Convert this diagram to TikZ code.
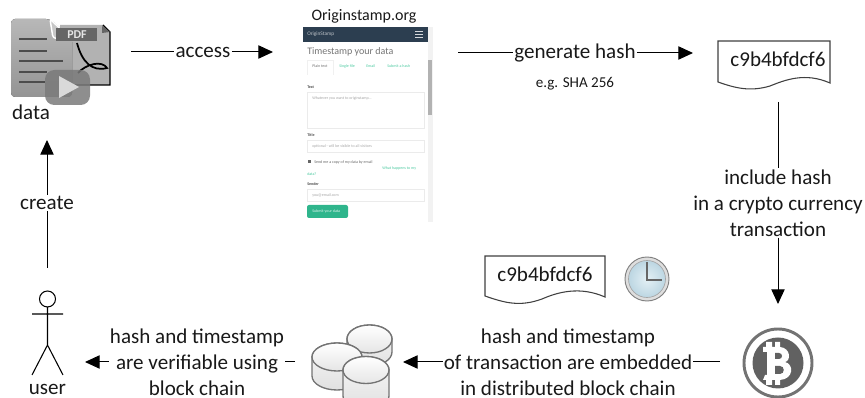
\documentclass[tikz,border=0pt]{standalone}
\usepackage{fontspec}
\setmainfont{Carlito}
\usetikzlibrary{arrows.meta}
\definecolor{hdr}{HTML}{2C3E50}
\definecolor{grn}{HTML}{4CC9A0}
\definecolor{btn}{HTML}{2FB58C}
\definecolor{clockin}{HTML}{E4F0F5}
\definecolor{clockout}{HTML}{BCD6E2}
\tikzset{
  lbl/.style={font=\fontsize{15.8}{19.5}\selectfont,align=center,inner sep=0.8pt,text=black!90},
  line/.style={line width=0.75pt,black},
  arr/.style={line width=0.75pt,black,-{Triangle[length=11pt,width=10pt]}},
  wavedoc/.style={draw=black!75,line width=0.8pt,fill=white},
  cyl/.style={draw=black!55,line width=1pt,top color=black!3,bottom color=black!12},
  tiny/.style={font=\fontsize{3}{3}\selectfont,inner sep=0pt,anchor=west},
  field/.style={draw=black!8,line width=0.4pt,fill=white},
}
\begin{document}
\begin{tikzpicture}[x=0.75pt,y=-0.75pt]
\useasboundingbox (0,0) rectangle (865,398);

% --- data icon
\fill[black!30] (60,25) -- (103,25) -- (110,32) -- (110,85) -- (60,85) -- cycle;
\draw[line width=0.9pt,black] (103,25) -- (110,32) -- (110,85) -- (75,85);
\fill[black!60] (102,26) -- (110,32) -- (102,33) -- cycle;
\fill[top color=black!28,bottom color=black!42,rounded corners=3pt] (11,19) -- (50,19) -- (72,38) -- (72,97) -- (11,97) -- cycle;
\draw[white,line width=1.1pt,rounded corners=2pt,fill=black!22] (50,19) -- (53,38) -- (72,40) -- cycle;
\foreach \yy/\xx in {39/47,51/47,61/63,72/47,82/45}
  \draw[black!70,line width=2.2pt] (19,\yy) -- (\xx,\yy);
\fill[black!60] (56,28) rectangle (97,41);
\node[font=\bfseries\fontsize{9}{9}\selectfont,text=black!10,inner sep=0pt] (pdf) at (77,34.5) {PDF};
\draw[black,line width=1.3pt] (77,43) .. controls (82,62) and (92,72) .. (107,68) .. controls (102,60) and (86,64) .. (78,73);
\fill[black!52,opacity=0.85,rounded corners=7pt] (45,70) rectangle (90,105);
\fill[black!15] (59,76) -- (79,87) -- (59,98) -- cycle;
\node[lbl] (data) at (31,112) {data};
\coordinate (acS) at (131,52);
\coordinate (crE) at (47,140);

% --- website
\node[font=\fontsize{12}{12}\selectfont,inner sep=0pt,text=black!90] (org) at (364,16) {Originstamp.org};
\fill[black!5] (428,27) rectangle (433,222);
\fill[black!30] (428,60) rectangle (432,115);
\fill[hdr] (303,27) rectangle (428,42);
\node[tiny,text=white!70!hdr,font=\fontsize{4}{4}\selectfont] (brand) at (307,34.5) {OriginStamp};
\foreach \yy in {31.5,34.5,37.5} \draw[white!80!hdr,line width=0.7pt] (415,\yy) -- (423,\yy);
\node[tiny,text=black!55,font=\fontsize{7.5}{9}\selectfont] (ttl) at (307,52) {Timestamp your data};
\draw[black!6,line width=0.4pt] (307,75) -- (307,60) -- (333,60) -- (333,75);
\node[tiny,text=black!55] (t1) at (312,66) {Plain text};
\node[tiny,text=grn] (t2) at (339,66) {Single file};
\node[tiny,text=grn] (t3) at (366,66) {Email};
\node[tiny,text=grn] (t4) at (387,66) {Submit a hash};
\node[tiny,text=black!70] (t5) at (307,87) {\bfseries Text};
\draw[field] (307,92) rectangle (424,128);
\node[tiny,text=black!35] (t6) at (312,98) {Whatever you want to originstamp...};
\node[tiny,text=black!70] (t7) at (307,135) {\bfseries Title};
\draw[field] (307,140) rectangle (424,152);
\node[tiny,text=black!35] (t8) at (312,146) {optional - will be visible to all visitors};
\fill[black!60] (308,160) rectangle (311,163);
\node[tiny,text=black!60] (t9) at (314,162) {Send me a copy of my data by email};
\node[tiny,text=grn] (t10) at (382,168) {What happens to my};
\node[tiny,text=grn] (t11) at (307,174) {data?};
\node[tiny,text=black!70] (t12) at (307,184) {\bfseries Sender};
\draw[field] (307,189) rectangle (424,201);
\node[tiny,text=black!35] (t13) at (312,195) {you@email.com};
\fill[btn,rounded corners=1.5pt] (307,205) rectangle (348,218);
\node[tiny,text=white!85!btn] (t14) at (312,211.5) {Submit your data};

% --- hash documents
\draw[wavedoc] (718,41) -- (830,41) -- (830,83) .. controls (805,72) and (785,80) .. (770,86) .. controls (750,92) and (735,88) .. (718,82) -- cycle;
\node[lbl] (hash1) at (778,59) {c9b4bfdcf6};
\draw[wavedoc] (485,256) -- (605,256) -- (605,297) .. controls (580,286) and (558,292) .. (542,299) .. controls (520,307) and (505,303) .. (485,296) -- cycle;
\node[lbl] (hash2) at (545,274) {c9b4bfdcf6};

% --- clock
\draw[line width=0.7pt,black!50,fill=black!13] (647,279) circle (22);
\draw[line width=0.5pt,black!35,inner color=clockin,outer color=clockout] (647,279) circle (18.5);
\draw[black!60,line width=1.3pt] (647,262) -- (647,280) -- (662,280);

% --- bitcoin
\draw[black!55,line width=2.2pt,fill=white] (778,363) circle (34);
\fill[black!62] (778,363) circle (25.5);
\fill[white] (766,342) -- (772,342) -- (772,347) -- (775,347) -- (775,342) -- (780,342) -- (780,347)
  .. controls (791,348) and (791,361) .. (785,362) .. controls (794,364) and (794,379) .. (780,380)
  -- (780,385) -- (775,385) -- (775,380) -- (772,380) -- (772,385) -- (766,385) -- (766,380) -- (763,380) -- (765,375) -- (767,375) -- (767,352) -- (763,352) -- (763,347) -- (766,347) -- cycle;
\fill[black!62] (775,353) -- (779,353) .. controls (783,353) and (783,359) .. (779,359) -- (775,359) -- cycle;
\fill[black!62] (775,366) -- (780,366) .. controls (785,366) and (785,374) .. (780,374) -- (775,374) -- cycle;

% --- database
\foreach \cx/\rx/\ctop/\ry/\cbot in {369.5/22.5/339/14/352, 337/25/357/14/376, 366/23/370/13.5/396}{
  \path[cyl] (\cx-\rx,\ctop) -- (\cx-\rx,\cbot) arc[start angle=180,end angle=0,x radius=\rx,y radius=\ry] -- (\cx+\rx,\ctop) arc[start angle=0,end angle=-180,x radius=\rx,y radius=\ry] -- cycle;
  \path[draw=black!55,line width=1pt,top color=white,bottom color=black!10] (\cx,\ctop) ellipse[x radius=\rx,y radius=\ry];
}

% --- actor
\coordinate (hd) at (47.5,299);
\draw[line width=0.8pt,black] (hd) circle (8);
\draw[line width=0.8pt,black] (47.5,307) -- (47.5,345) (32,314) -- (63,314) (32,375) -- (47.5,345) -- (63,375);
\node[lbl] (user) at (47.5,389) {user};
\coordinate (crS) at (47,268);

% --- connectors
\node[lbl] (access) at (203,52) {access};
\coordinate (acE) at (273,52);
\draw[line] (acS) -- (access);
\draw[arr] (access) -- (acE);

\node[lbl] (gen) at (575,53) {generate hash};
\coordinate (genS) at (458,53);
\coordinate (genE) at (693,53);
\draw[line] (genS) -- (gen);
\draw[arr] (gen) -- (genE);
\node[font=\fontsize{11.3}{12}\selectfont,inner sep=0pt,text=black!90] (sha) at (575,84) {e.g. SHA 256};

\node[lbl] (incl) at (778,203) {include hash\\in a crypto currency\\transaction};
\coordinate (inS) at (778,102);
\coordinate (inE) at (778,304);
\draw[line] (inS) -- (incl);
\draw[arr] (incl) -- (inE);

\node[lbl] (emb) at (568,362) {hash and timestamp\\of transaction are embedded\\in distributed block chain};
\coordinate (emS) at (720,362);
\coordinate (emE) at (403,362);
\draw[line] (emS) -- (emb);
\draw[arr] (emb) -- (emE);

\node[lbl] (ver) at (197,362) {hash and timestamp\\are verifiable using\\block chain};
\coordinate (veS) at (295,362);
\coordinate (veE) at (85,362);
\draw[line] (veS) -- (ver);
\draw[arr] (ver) -- (veE);

\node[lbl] (create) at (47,203) {create};
\draw[line] (crS) -- (create);
\draw[arr] (create) -- (crE);
\end{tikzpicture}
\end{document}
